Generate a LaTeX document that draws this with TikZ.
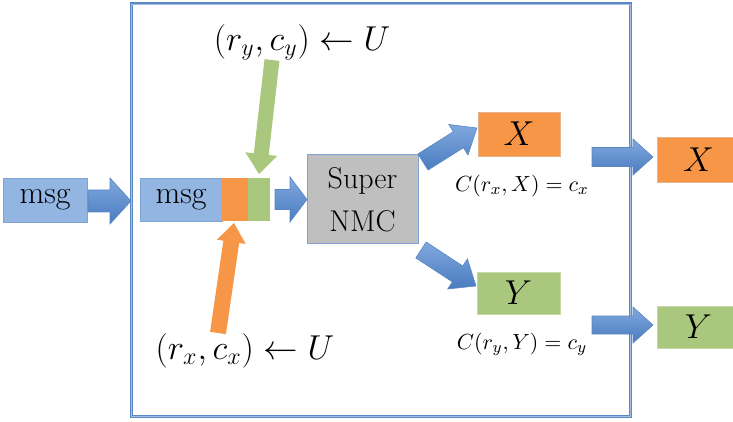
\documentclass[tikz,border=0pt]{standalone}
\usetikzlibrary{calc}
\definecolor{msgblue}{HTML}{93B5E1}
\definecolor{msgedge}{HTML}{7FA2D2}
\definecolor{orng}{HTML}{F79646}
\definecolor{orngedge}{HTML}{E9B48A}
\definecolor{grn}{HTML}{A9C87E}
\definecolor{grnedge}{HTML}{C6DAA8}
\definecolor{gry}{HTML}{BFBFBF}
\definecolor{framec}{HTML}{5B87C7}
\definecolor{framel}{HTML}{A3BFE6}
\definecolor{arrtop}{HTML}{80A8DE}
\definecolor{arrbot}{HTML}{4A7CC0}
\definecolor{arredge}{HTML}{5A86C2}
\newcommand\blockarrow[6]{%
  \path[#1] let \p1=(#2), \p2=(#3),
      \n1={atan2(\y2-\y1,\x2-\x1)}, \n2={veclen(\x2-\x1,\y2-\y1)} in
    [shift={(\p1)}, rotate=\n1]
    (0pt,-#4) -- ({\n2-#6},-#4) -- ({\n2-#6},-#5) -- ({\n2+0pt},0pt)
    -- ({\n2-#6},#5) -- ({\n2-#6},#4) -- (0pt,#4) -- cycle;}
\tikzset{
  box/.style={rectangle, inner sep=0pt, outer sep=0pt},
  msgbox/.style={box, fill=msgblue, draw=msgedge, line width=0.4pt, font=\fontsize{16}{18}\selectfont},
  xbox/.style={box, fill=orng, draw=orngedge, line width=0.4pt, font=\fontsize{18}{20}\selectfont},
  ybox/.style={box, fill=grn, draw=grnedge, line width=0.4pt, font=\fontsize{18}{20}\selectfont},
  bluearrow/.style={top color=arrtop, bottom color=arrbot, draw=arredge, line width=0.3pt},
  greenarrow/.style={fill=grn},
  orangearrow/.style={fill=orng},
  biglabel/.style={inner sep=0pt, font=\fontsize{18}{20}\selectfont},
  smalllabel/.style={inner sep=0pt, font=\fontsize{11}{13}\selectfont},
}
\begin{document}
\begin{tikzpicture}[x=0.5pt, y=-0.5pt]
\useasboundingbox (0,0) rectangle (733,422);
% outer frame
\node[box, draw=framec, line width=1.5pt, minimum width=249.5pt, minimum height=206pt] (frame) at (380.5,210) {};
\draw[framel, line width=0.4pt] (frame.north west) rectangle (frame.south east);
% left message
\node[msgbox, minimum width=42pt, minimum height=22pt] (msgL) at (45,200) {msg};
% inner message with two parts
\node[msgbox, minimum width=41pt, minimum height=21.5pt] (msgI) at (181,199.5) {msg};
\node[box, fill=orng, minimum width=13pt, minimum height=21.5pt, anchor=west] (opart) at (msgI.east) {};
\node[box, fill=grn, minimum width=11pt, minimum height=21.5pt, anchor=west] (gpart) at (opart.east) {};
% super NMC
\node[box, fill=gry, draw=msgedge, line width=0.5pt, minimum width=55.5pt, minimum height=44.5pt,
      align=center, font=\fontsize{15}{21.5}\selectfont] (super) at (362.5,199.5) {Super\\NMC};
% outputs inside
\node[xbox, minimum width=41pt, minimum height=22pt] (X) at (519,134) {$X$};
\node[ybox, minimum width=41.5pt, minimum height=21pt] (Y) at (518.5,293) {$Y$};
% outputs outside
\node[xbox, minimum width=41.5pt, minimum height=22.5pt] (Xr) at (698.5,159.5) {$X$};
\node[ybox, minimum width=41.5pt, minimum height=21pt] (Yr) at (698.5,327) {$Y$};
% labels
\node[biglabel] (ly) at (302,42) {$(r_y, c_y) \leftarrow U$};
\node[biglabel] (lx) at (245,351) {$(r_x, c_x) \leftarrow U$};
\node[smalllabel] (cx) at (522,186) {$C(r_x, X) = c_x$};
\node[smalllabel] (cy) at (522,344) {$C(r_y, Y) = c_y$};
% arrow end points
\coordinate (a1s) at ($(msgL.east)+(1,1)$);
\coordinate (a1e) at (frame.west |- a1s);
\coordinate (a2s) at ($(gpart.east)+(5,0)$);
\coordinate (a2e) at (super.west |- a2s);
\coordinate (a3s) at (423,162);
\coordinate (a3e) at ($(X.west)+(-1,-6)$);
\coordinate (a4s) at (421,250);
\coordinate (a4e) at ($(Y.west)+(-1,-7)$);
\coordinate (a5s) at (592,157);
\coordinate (a5e) at ($(Xr.west)+(-4,-2.5)$);
\coordinate (a6s) at (592,325);
\coordinate (a6e) at ($(Yr.west)+(-4,-2)$);
\coordinate (gs) at (272,60);
\coordinate (ge) at ($(gpart.north)+(0,-4)$);
\coordinate (os) at (218,333);
\coordinate (oe) at ($(opart.south)+(-1,2)$);
% block arrows
\blockarrow{bluearrow}{a1s}{a1e}{5.5pt}{11.5pt}{10.5pt}
\blockarrow{bluearrow}{a2s}{a2e}{5pt}{11.25pt}{8.5pt}
\blockarrow{bluearrow}{a3s}{a3e}{4.75pt}{9pt}{11pt}
\blockarrow{bluearrow}{a4s}{a4e}{4.75pt}{9pt}{11pt}
\blockarrow{bluearrow}{a5s}{a5e}{4.75pt}{9pt}{10pt}
\blockarrow{bluearrow}{a6s}{a6e}{4.5pt}{9pt}{10pt}
\blockarrow{greenarrow}{gs}{ge}{3.75pt}{8pt}{10pt}
\blockarrow{orangearrow}{os}{oe}{4pt}{7.25pt}{9.5pt}
\end{tikzpicture}
\end{document}
